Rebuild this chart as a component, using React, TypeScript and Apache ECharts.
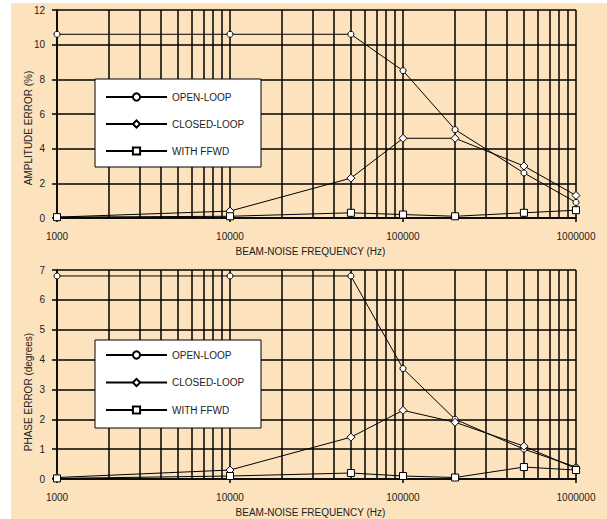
import React, { useEffect, useRef } from "react";
import * as echarts from "echarts";

const freqs = [1000, 10000, 50000, 100000, 200000, 500000, 1000000];
const ampOpen = [10.6, 10.6, 10.6, 8.5, 5.1, 2.6, 0.9];
const ampClosed = [0.05, 0.4, 2.3, 4.6, 4.6, 3.0, 1.3];
const ampFfwd = [0.05, 0.1, 0.3, 0.2, 0.1, 0.3, 0.45];
const phaseOpen = [6.8, 6.8, 6.8, 3.7, 2.0, 1.0, 0.4];
const phaseClosed = [0.05, 0.3, 1.4, 2.3, 1.9, 1.1, 0.35];
const phaseFfwd = [0.02, 0.1, 0.2, 0.1, 0.05, 0.4, 0.3];
const seriesNames = ["OPEN-LOOP", "CLOSED-LOOP", "WITH FFWD"];
const minorFreqs = [
  2000, 3000, 4000, 5000, 6000, 7000, 8000, 9000,
  20000, 30000, 40000, 50000, 60000, 70000, 80000, 90000,
  200000, 300000, 400000, 500000, 600000, 700000, 800000, 900000,
];
const xName = "BEAM-NOISE FREQUENCY (Hz)";
const yNameTop = "AMPLITUDE ERROR (%)";
const yNameBottom = "PHASE ERROR (degrees)";

const BG = "#FDE3BD";
const INK = "#000";
const TXT = "#222";
const FONT = "'Liberation Sans', Arial, sans-serif";

export default function App() {
  const ref = useRef<HTMLDivElement>(null);
  useEffect(() => {
    if (!ref.current) return;
    const chart = echarts.init(ref.current, null, { renderer: "svg" });
    const toPts = (vals: number[]) => freqs.map((f, i) => [Math.log10(f), vals[i]]);
    const symbols = ["circle", "diamond", "rect"];
    const sizes = [6, 8, 7];
    const mkSeries = (vals: number[][], gi: number) =>
      vals.map((v, i) => ({
        name: seriesNames[i],
        type: "line",
        xAxisIndex: gi,
        yAxisIndex: gi,
        data: toPts(v),
        symbol: symbols[i],
        symbolSize: sizes[i],
        showAllSymbol: true,
        lineStyle: { color: INK, width: 1 },
        itemStyle: { color: "#fff", borderColor: INK, borderWidth: 1 },
        z: 5,
      }));
    const gridSeries = (gi: number) => ({
      name: "grid" + gi,
      type: "line",
      xAxisIndex: gi,
      yAxisIndex: gi,
      data: [],
      silent: true,
      z: 1,
      markLine: {
        silent: true,
        z: 1,
        symbol: ["none", "none"],
        label: { show: false },
        lineStyle: { color: INK, width: 1.5, type: "solid" },
        emphasis: { disabled: true },
        data: minorFreqs.map((f) => ({ xAxis: Math.log10(f) })),
      },
    });
    const xAxisDef = (gi: number) => ({
      type: "value",
      gridIndex: gi,
      min: 3,
      max: 6,
      interval: 1,
      axisLine: { show: true, lineStyle: { color: INK, width: 1.5 } },
      axisTick: { show: true, length: 4, lineStyle: { color: INK, width: 1.5 } },
      axisLabel: {
        margin: 13,
        fontSize: 10,
        color: TXT,
        fontFamily: FONT,
        formatter: (v: number) => String(Math.round(Math.pow(10, v))),
      },
      splitLine: { show: true, lineStyle: { color: INK, width: 1.5 } },
      name: xName,
      nameLocation: "middle",
      nameGap: 28,
      nameTextStyle: { fontSize: 10, color: TXT, fontFamily: FONT, padding: [0, 12, 0, 0] },
    });
    const yAxisDef = (gi: number, max: number, interval: number) => ({
      type: "value",
      gridIndex: gi,
      min: 0,
      max,
      interval,
      axisLine: { show: true, lineStyle: { color: INK, width: 1.5 } },
      axisTick: { show: true, length: 5, lineStyle: { color: INK, width: 1.5 } },
      axisLabel: { margin: 12, fontSize: 10, color: TXT, fontFamily: FONT },
      splitLine: { show: true, lineStyle: { color: INK, width: 1.5 } },
    });
    const legendDef = (top: number, gap: number) => ({
      orient: "vertical",
      left: 94,
      top,
      z: 8,
      padding: 0,
      itemWidth: 61,
      itemHeight: 9,
      itemGap: gap,
      data: seriesNames,
      selectedMode: false,
      textStyle: { fontSize: 10, color: TXT, fontFamily: FONT, lineHeight: 12 },
    });
    chart.setOption({
      animation: false,
      backgroundColor: BG,
      textStyle: { fontFamily: FONT },
      grid: [
        { left: 46, top: 7, width: 519, height: 208 },
        { left: 46, top: 267, width: 519, height: 209 },
      ],
      xAxis: [xAxisDef(0), xAxisDef(1)],
      yAxis: [yAxisDef(0, 12, 2), yAxisDef(1, 7, 1)],
      legend: [legendDef(88, 15), legendDef(346, 15.5)],
      graphic: [
        {
          type: "rect",
          z: 7,
          shape: { x: 84, y: 76, width: 166, height: 88 },
          style: { fill: "#fff", stroke: INK, lineWidth: 1 },
        },
        {
          type: "rect",
          z: 7,
          shape: { x: 84, y: 337, width: 166, height: 88 },
          style: { fill: "#fff", stroke: INK, lineWidth: 1 },
        },
        {
          type: "text",
          x: 17,
          y: 125,
          rotation: Math.PI / 2,
          style: {
            text: yNameTop,
            fill: TXT,
            fontSize: 10,
            fontFamily: FONT,
            textAlign: "center",
            textVerticalAlign: "middle",
          },
        },
        {
          type: "text",
          x: 17,
          y: 389,
          rotation: Math.PI / 2,
          style: {
            text: yNameBottom,
            fill: TXT,
            fontSize: 10,
            fontFamily: FONT,
            textAlign: "center",
            textVerticalAlign: "middle",
          },
        },
      ],
      series: [
        gridSeries(0),
        gridSeries(1),
        ...mkSeries([ampOpen, ampClosed, ampFfwd], 0),
        ...mkSeries([phaseOpen, phaseClosed, phaseFfwd], 1),
      ],
    });
    return () => chart.dispose();
  }, []);
  return (
    <div style={{ position: "fixed", left: 0, top: 0, width: 607, height: 519, background: "#fff" }}>
      <div ref={ref} style={{ position: "absolute", left: 11, top: 3, width: 596, height: 516 }} />
    </div>
  );
}
